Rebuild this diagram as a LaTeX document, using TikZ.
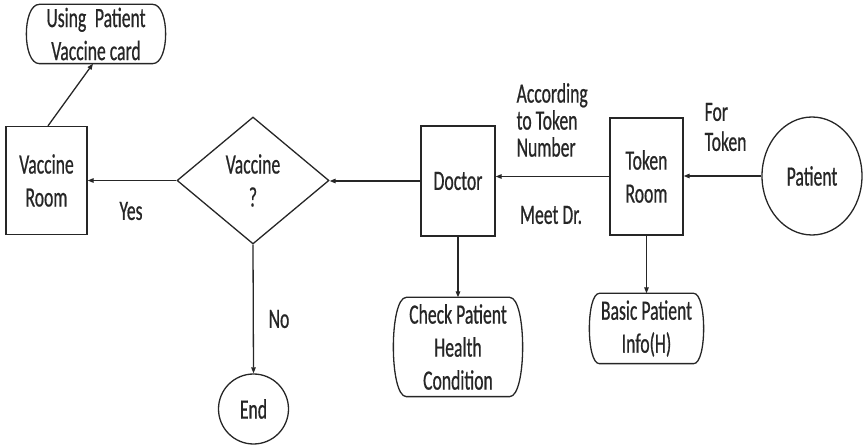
\documentclass[tikz,border=0pt]{standalone}
\usepackage{fontspec}
\setmainfont{Carlito}[FakeStretch=0.63,FakeBold=0.6]
\usetikzlibrary{shapes.geometric,arrows.meta}
\newcommand\termpath[2]{%
  \draw[draw=black!85] ([xshift=#2pt]#1.north west) -- ([xshift=-#2pt]#1.north east)
    .. controls +(4*#2/3,0) and +(4*#2/3,0) .. ([xshift=-#2pt]#1.south east)
    -- ([xshift=#2pt]#1.south west)
    .. controls +(-4*#2/3,0) and +(-4*#2/3,0) .. cycle;}
\begin{document}
\begin{tikzpicture}[x=1pt,y=-1pt,
  font=\fontsize{28}{33}\selectfont,
  every node/.style={text=black!85},
  line width=1.3pt,
  box/.style={draw=black!85,rectangle,inner sep=0pt,align=center},
  term/.style={rectangle,inner sep=0pt,align=center},
  arr/.style={draw=black!85,-{Triangle[length=6pt,width=4.5pt]}},
  lbl/.style={inner sep=0pt,align=left}]
\useasboundingbox (0,0) rectangle (863,446);

\node[box,minimum width=81pt,minimum height=108pt] (vr) at (46.5,180.5) {Vaccine\\Room};
\node[draw=black!85,diamond,inner sep=0pt,align=center,minimum width=152pt,minimum height=127pt] (dia) at (253,180.5) {Vaccine\\?};
\node[box,minimum width=74pt,minimum height=110pt] (doc) at (458,181) {Doctor};
\node[box,minimum width=73pt,minimum height=117pt] (tok) at (646.5,176.5) {Token\\Room};
\node[draw=black!85,ellipse,inner sep=0pt,minimum width=100pt,minimum height=118pt] (pat) at (812,176) {Patient};
\node[term,minimum width=138pt,minimum height=58pt] (card) at (96,34) {Using\, Patient\\Vaccine card};
\node[term,minimum width=128pt,minimum height=98pt] (chk) at (458,347) {Check Patient\\Health\\Condition};
\node[term,minimum width=113pt,minimum height=69pt] (bas) at (646.5,328.5) {Basic Patient\\Info(H)};
\node[draw=black!85,circle,inner sep=0pt,minimum size=70pt] (end) at (253.5,409) {End};
\termpath{card}{13}
\termpath{chk}{13}
\termpath{bas}{10}

\draw[arr] (pat.west) -- (pat.west -| tok.east);
\draw[arr] (tok.west) -- (tok.west -| doc.east);
\draw[arr] (doc.west) -- (doc.west -| dia.east);
\draw[arr] (dia.west) -- (dia.west -| vr.east);
\draw[arr] ([xshift=1.5pt]vr.north) -- ([xshift=-3pt]card.south);
\draw[arr] (doc.south) -- (chk.north);
\draw[arr] (tok.south) -- (bas.north);
\draw[arr] (dia.south) -- (end.north);

\node[lbl,anchor=west,font=\fontsize{28}{27}\selectfont] (lacc) at (516,120) {According\\to Token\\Number};
\node[lbl,anchor=west,font=\fontsize{28}{30}\selectfont] (lfor) at (704,127) {For\\Token};
\node[lbl] (lmeet) at (551,215) {Meet Dr.};
\node[lbl] (lyes) at (131,211) {Yes};
\node[lbl] (lno) at (279,319) {No};
\end{tikzpicture}
\end{document}
